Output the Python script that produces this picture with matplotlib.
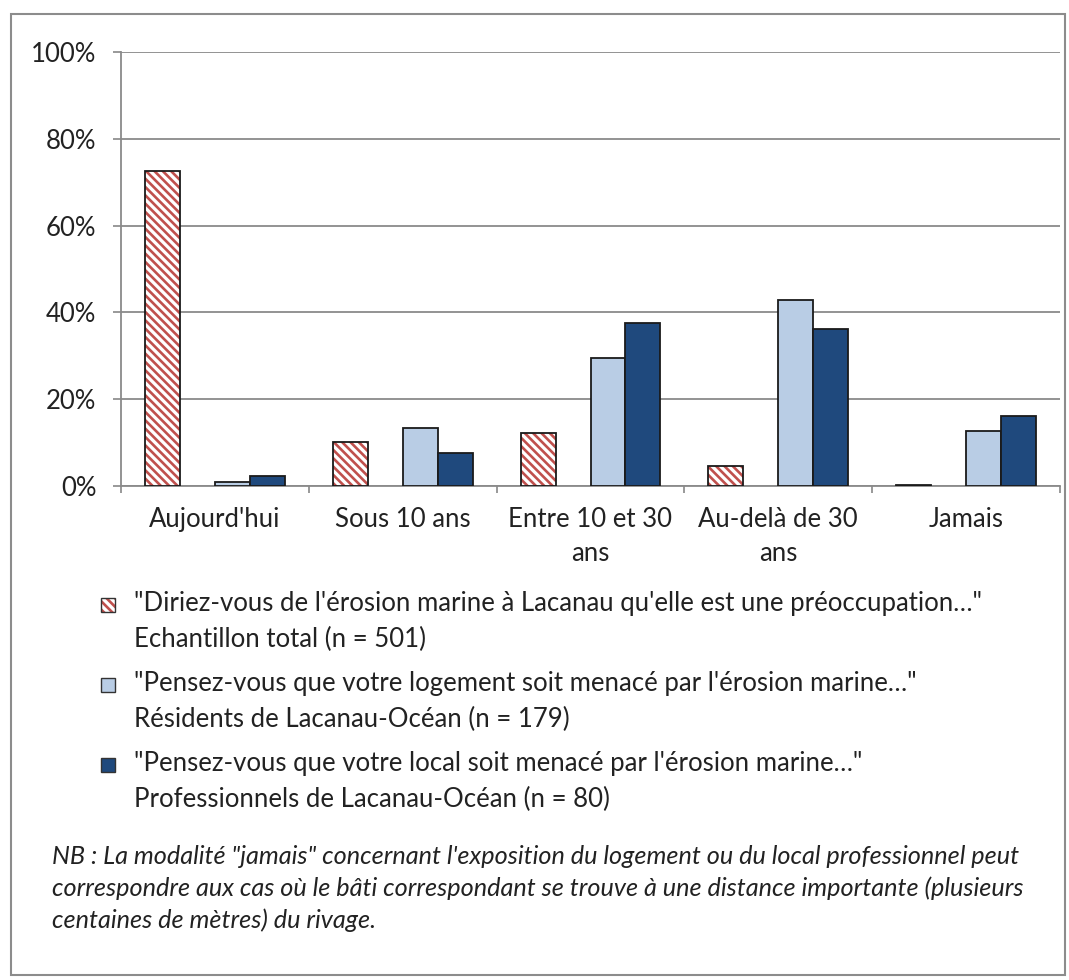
import matplotlib.pyplot as plt
import numpy as np
from matplotlib.patches import Rectangle

plt.rcParams['font.family'] = ['Lato', 'DejaVu Sans']
plt.rcParams['hatch.linewidth'] = 1.9

# Données
categories = ["Aujourd'hui", "Sous 10 ans", "Entre 10 et 30\nans", "Au-delà de 30\nans", "Jamais"]
erosion_total = [72.6, 10.1, 12.3, 4.6, 0.3]
residents = [1.0, 13.4, 29.6, 42.9, 12.7]
professionnels = [2.2, 7.6, 37.5, 36.2, 16.1]

legend_labels = [
    "\"Diriez-vous de l'érosion marine à Lacanau qu'elle est une préoccupation…\"\nEchantillon total (n = 501)",
    "\"Pensez-vous que votre logement soit menacé par l'érosion marine…\"\nRésidents de Lacanau-Océan (n = 179)",
    "\"Pensez-vous que votre local soit menacé par l'érosion marine…\"\nProfessionnels de Lacanau-Océan (n = 80)",
]
note = ("NB : La modalité \"jamais\" concernant l'exposition du logement ou du local professionnel peut\n"
        "correspondre aux cas où le bâti correspondant se trouve à une distance importante (plusieurs\n"
        "centaines de mètres) du rivage.")

W, H = 1069, 980
fig = plt.figure(figsize=(W / 100, H / 100), dpi=100)
ax = fig.add_axes([121 / W, 1 - 486 / H, (1060 - 121) / W, (486 - 52) / H])

red = '#C0504D'
light = '#B9CDE5'
dark = '#1F497D'
txt = '#222222'
x = np.arange(len(categories))
w = 0.186

# Barres hachurées (rayures rouges puis contour noir)
ax.bar(x - 1.5 * w, erosion_total, w, color='white', edgecolor=red, hatch='\\\\\\\\', linewidth=0, zorder=3)
ax.bar(x - 1.5 * w, erosion_total, w, fill=False, edgecolor='#1a1a1a', linewidth=1.3, zorder=4)
ax.bar(x + 0.5 * w, residents, w, color=light, edgecolor='#1a1a1a', linewidth=1.3, zorder=3)
ax.bar(x + 1.5 * w, professionnels, w, color=dark, edgecolor='#1a1a1a', linewidth=1.3, zorder=3)

ax.set_xlim(-0.5, len(categories) - 0.5)
ax.set_ylim(0, 100)
ax.set_yticks(np.arange(0, 101, 20))
ax.set_yticklabels([f'{v}%' for v in range(0, 101, 20)], fontsize=18.5, color=txt)
ax.set_xticks(x)
ax.set_xticklabels(categories, fontsize=18.5, color=txt, linespacing=1.45)
ax.set_xticks(np.arange(-0.5, len(categories)), minor=True)
ax.tick_params(axis='x', which='major', length=0, pad=15)
ax.tick_params(axis='x', which='minor', length=5, color='#888888', width=1.2)
ax.tick_params(axis='y', length=5.8, color='#888888', width=1.2, pad=12)
ax.grid(axis='y', color='#8a8a8a', linewidth=1.3, zorder=0)
ax.set_axisbelow(True)
for s in ['top', 'right']:
    ax.spines[s].set_visible(False)
for s in ['left', 'bottom']:
    ax.spines[s].set_color('#8a8a8a')
    ax.spines[s].set_linewidth(1.3)

# Légende manuelle
handles = [
    dict(facecolor='white', edgecolor=red, hatch='\\\\\\\\'),
    dict(facecolor=light, edgecolor='#333333'),
    dict(facecolor=dark, edgecolor='#333333'),
]
y0 = 605
for i, (lab, h) in enumerate(zip(legend_labels, handles)):
    yc = y0 + i * 80
    r = Rectangle((101 / W, 1 - (yc + 7) / H), 14 / W, 14 / H, transform=fig.transFigure,
                  linewidth=1.0 if i else 0, **h)
    fig.add_artist(r)
    if i == 0:
        fig.add_artist(Rectangle((101 / W, 1 - (yc + 7) / H), 14 / W, 14 / H, transform=fig.transFigure,
                                 fill=False, edgecolor='#333333', linewidth=1.0))
    fig.text(134 / W, 1 - (yc - 14) / H, lab, fontsize=18.5, va='top', ha='left',
             color=txt, linespacing=1.52)

fig.text(52 / W, 1 - (855 - 10) / H, note, fontsize=18.2, style='italic', va='top', ha='left',
         color=txt, linespacing=1.43)

# Cadre
fig.add_artist(Rectangle((11 / W, 1 - 975 / H), (1065 - 11) / W, (975 - 14) / H,
                         transform=fig.transFigure, fill=False, edgecolor='#8c8c8c', linewidth=1.5))

plt.savefig('out.png', dpi=100)
plt.close()
